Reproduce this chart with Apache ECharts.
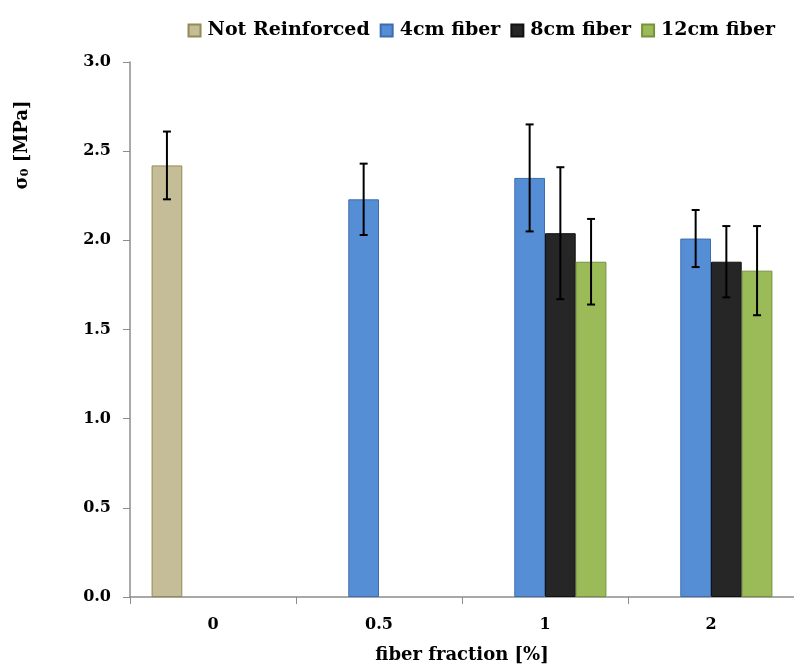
<!DOCTYPE html>
<html>
<head>
<meta charset="utf-8">
<script src="https://cdn.jsdelivr.net/npm/echarts@6/dist/echarts.min.js"></script>
<style>
  html, body { margin: 0; padding: 0; background: #fff; }
  #chart { width: 794px; height: 669px; }
</style>
</head>
<body>
<div id="chart"></div>
<script>
// Fiber fraction groups on the x axis
const categories = ['0', '0.5', '1', '2'];

// Mean strength sigma_0 [MPa] per series (null = no specimen)
const notReinforced = [2.42, null, null, null];
const fiber4cm = [null, 2.23, 2.35, 2.01];
const fiber8cm = [null, null, 2.04, 1.88];
const fiber12cm = [null, null, 1.88, 1.83];

// Standard deviation for each bar
const errNotReinforced = [0.19, null, null, null];
const err4cm = [null, 0.20, 0.30, 0.16];
const err8cm = [null, null, 0.37, 0.20];
const err12cm = [null, null, 0.24, 0.25];

// Y axis ticks
const yMin = 0, yMax = 3.0, yStep = 0.5;

const seriesNames = ['Not Reinforced', '4cm fiber', '8cm fiber', '12cm fiber'];
const seriesValues = [notReinforced, fiber4cm, fiber8cm, fiber12cm];
const seriesErrors = [errNotReinforced, err4cm, err8cm, err12cm];
const fills = ['#C4BD97', '#558ED5', '#262626', '#9BBB59'];
const borders = ['#948A54', '#3C6DB0', '#111111', '#76923C'];

const FONT = '"DejaVu Serif", serif';
const BAR_FRACTION = 0.185;   // bar width as a share of the category band

const chart = echarts.init(document.getElementById('chart'), null, { renderer: 'canvas' });

const barSeries = seriesValues.map((vals, i) => ({
  name: seriesNames[i],
  type: 'bar',
  data: vals,
  barWidth: (BAR_FRACTION * 100) + '%',
  barGap: '0%',
  itemStyle: { color: fills[i], borderColor: borders[i], borderWidth: 1 },
  emphasis: { disabled: true },
  z: 2
}));

// Error bars drawn at the centre of each bar slot
const errorSeries = seriesValues.map((vals, i) => {
  const data = [];
  vals.forEach((v, c) => {
    if (v != null && seriesErrors[i][c] != null) data.push([c, v, seriesErrors[i][c]]);
  });
  return {
    type: 'custom',
    name: seriesNames[i] + ' error',
    data: data,
    z: 5,
    silent: true,
    renderItem: function (params, api) {
      const c = api.value(0), v = api.value(1), e = api.value(2);
      const band = api.size([1, 0])[0];
      const offset = (i - 1.5) * BAR_FRACTION * band;
      const hi = api.coord([c, v + e]);
      const lo = api.coord([c, v - e]);
      const x = hi[0] + offset;
      const cap = 4;
      const st = { stroke: '#000', lineWidth: 2 };
      return {
        type: 'group',
        children: [
          { type: 'line', shape: { x1: x, y1: hi[1], x2: x, y2: lo[1] }, style: st },
          { type: 'line', shape: { x1: x - cap, y1: hi[1], x2: x + cap, y2: hi[1] }, style: st },
          { type: 'line', shape: { x1: x - cap, y1: lo[1], x2: x + cap, y2: lo[1] }, style: st }
        ]
      };
    }
  };
});

chart.setOption({
  animation: false,
  backgroundColor: '#ffffff',
  grid: { left: 130, top: 62, width: 668, height: 537 },
  legend: {
    data: seriesNames,
    top: 16,
    right: 14,
    itemWidth: 12,
    itemHeight: 12,
    itemGap: 10,
    icon: 'rect',
    textStyle: { fontFamily: FONT, fontWeight: 'bold', fontSize: 19, color: '#000', padding: [0, 0, 0, 2] },
    selectedMode: false
  },
  xAxis: {
    type: 'category',
    data: categories,
    name: 'fiber fraction [%]',
    nameLocation: 'middle',
    nameGap: 49,
    nameTextStyle: { fontFamily: FONT, fontWeight: 'bold', fontSize: 18, color: '#000' },
    axisLine: { lineStyle: { color: '#8c8c8c', width: 1.5 } },
    axisTick: { show: true, length: 7, lineStyle: { color: '#8c8c8c' } },
    axisLabel: { fontFamily: FONT, fontWeight: 'bold', fontSize: 16, color: '#000', margin: 20 },
    splitLine: { show: false }
  },
  yAxis: {
    type: 'value',
    min: yMin,
    max: yMax,
    interval: yStep,
    axisLine: { show: true, lineStyle: { color: '#8c8c8c', width: 1.5 } },
    axisTick: { show: true, length: 7, lineStyle: { color: '#8c8c8c' } },
    axisLabel: {
      fontFamily: FONT, fontWeight: 'bold', fontSize: 16, color: '#000', margin: 19,
      formatter: v => v.toFixed(1)
    },
    splitLine: { show: false }
  },
  graphic: [{
    type: 'text',
    x: 22,
    y: 145,
    rotation: Math.PI / 2,
    style: {
      text: 'σ{sub|0} [MPa]',
      font: 'bold 18px ' + FONT,
      fill: '#000',
      align: 'center',
      verticalAlign: 'middle',
      rich: {
        sub: { font: 'bold 11px ' + FONT, fill: '#000', verticalAlign: 'bottom', padding: [6, 0, 0, 0] }
      }
    }
  }],
  series: barSeries.concat(errorSeries)
});
</script>
</body>
</html>
